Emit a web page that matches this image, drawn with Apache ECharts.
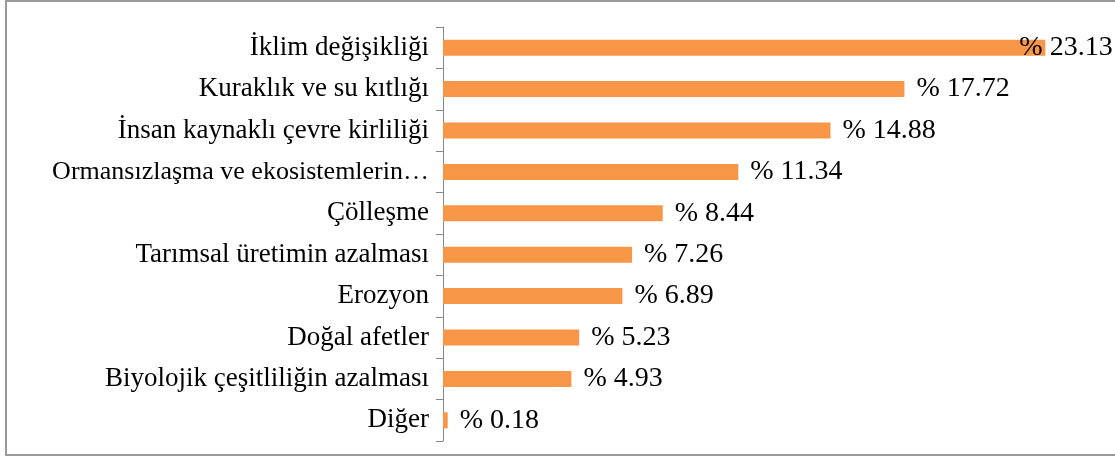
<!DOCTYPE html>
<html>
<head>
<meta charset="utf-8">
<script src="https://cdn.jsdelivr.net/npm/echarts@6/dist/echarts.min.js"></script>
<style>
  html, body { margin: 0; padding: 0; background: #fff; }
  #chart { width: 1115px; height: 459px; }
</style>
</head>
<body>
<div id="chart"></div>
<script>
// kategoriler (yukaridan asagiya)
const categories = [
  "İklim değişikliği",
  "Kuraklık ve su kıtlığı",
  "İnsan kaynaklı çevre kirliliği",
  "Ormansızlaşma ve ekosistemlerin…",
  "Çölleşme",
  "Tarımsal üretimin azalması",
  "Erozyon",
  "Doğal afetler",
  "Biyolojik çeşitliliğin azalması",
  "Diğer"
];
const values = [23.13, 17.72, 14.88, 11.34, 8.44, 7.26, 6.89, 5.23, 4.93, 0.18];

const chart = echarts.init(document.getElementById("chart"));
const font = "'Liberation Serif', 'Times New Roman', serif";

const option = {
  animation: false,
  textStyle: { fontFamily: font },
  graphic: [
    {
      type: "rect",
      shape: { x: 6, y: 1, width: 1120, height: 454 },
      style: { fill: "none", stroke: "#999", lineWidth: 2 },
      silent: true
    }
  ],
  grid: { left: 443, top: 27, width: 651, bottom: 18 },
  xAxis: {
    type: "value",
    min: 0,
    max: 25,
    show: false
  },
  yAxis: {
    type: "category",
    inverse: true,
    data: categories,
    axisLine: { lineStyle: { color: "#888", width: 1 } },
    axisTick: { show: true, length: 7, lineStyle: { color: "#888" } },
    axisLabel: {
      color: "#000",
      fontSize: 27,
      fontFamily: font,
      margin: 14,
      // kesik etiket biraz daha kucuk
      formatter: (v) => (v.endsWith("…") ? "{long|" + v + "}" : v),
      rich: {
        long: { fontSize: 26, fontFamily: font, color: "#000" }
      }
    }
  },
  series: [
    {
      type: "bar",
      data: values.map((v, i) => {
        // ilk etiket Excel'de cubugun icine kaydirilmis
        if (i === 0) {
          return { value: v, label: { offset: [-38, 0] } };
        }
        return v;
      }),
      barWidth: 16,
      itemStyle: { color: "#F79646" },
      label: {
        show: true,
        position: "right",
        distance: 12,
        color: "#000",
        fontSize: 28,
        fontFamily: font,
        formatter: (p) => "% " + p.value.toFixed(2)
      }
    }
  ]
};

chart.setOption(option);
</script>
</body>
</html>
